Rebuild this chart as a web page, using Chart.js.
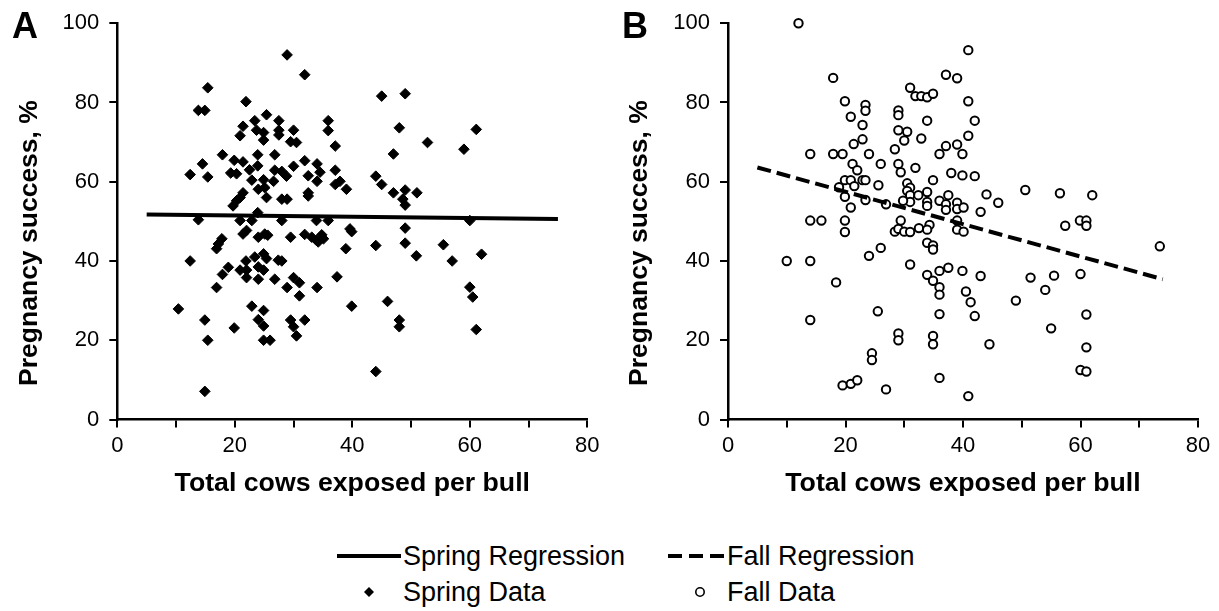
<!DOCTYPE html>
<html>
<head>
<meta charset="utf-8">
<script src="https://cdn.jsdelivr.net/npm/chart.js@4.4.1/dist/chart.umd.min.js"></script>
<style>
  html, body { margin: 0; padding: 0; background: #fff; }
  #wrap { position: relative; width: 1219px; height: 611px; overflow: hidden;
          font-family: "Liberation Sans", Arial, sans-serif; color: #000; }
  .cv { position: absolute; top: 0; }
  .panel { position: absolute; font-weight: bold; font-size: 36px; line-height: 1; }
  .ytitle { position: absolute; font-weight: bold; font-size: 26.5px; line-height: 1; white-space: nowrap;
            transform: translate(-50%, -50%) rotate(-90deg); }
  .leg { position: absolute; font-size: 27px; line-height: 1; white-space: nowrap; }
  .sym { position: absolute; }
</style>
</head>
<body>
<div id="wrap">
  <canvas id="chartA" class="cv" style="left:0px" width="610" height="500"></canvas>
  <canvas id="chartB" class="cv" style="left:610px" width="609" height="500"></canvas>

  <div class="panel" style="left:12px; top:8px;">A</div>
  <div class="panel" style="left:622px; top:8px;">B</div>

  <div class="ytitle" style="left:28px; top:243px;">Pregnancy success, %</div>
  <div class="ytitle" style="left:638px; top:243px;">Pregnancy success, %</div>

  <!-- legend -->
  <div class="sym" style="left:337px; top:554px; width:64px; height:4px; background:#000;"></div>
  <div class="leg" style="left:403px; top:543px;">Spring Regression</div>
  <svg class="sym" style="left:668px; top:552px;" width="56" height="8">
    <line x1="0" y1="4" x2="56" y2="4" stroke="#000" stroke-width="4" stroke-dasharray="14 7"></line>
  </svg>
  <div class="leg" style="left:727px; top:543px;">Fall Regression</div>
  <svg class="sym" style="left:363px; top:586px;" width="12" height="12">
    <polygon points="6,1 11,6 6,11 1,6" fill="#000"></polygon>
  </svg>
  <div class="leg" style="left:403px; top:579px;">Spring Data</div>
  <svg class="sym" style="left:694px; top:586px;" width="12" height="12">
    <circle cx="6" cy="6" r="4.2" fill="#fff" stroke="#000" stroke-width="1.6"></circle>
  </svg>
  <div class="leg" style="left:727px; top:579px;">Fall Data</div>
</div>

<script>
// Spring breeding season: cows exposed per bull vs. pregnancy success (%)
const springX = [
  15.4, 13.8, 14.9, 21.9, 25.4, 23.4, 21.4, 23.7, 24.9, 20.9, 24.9, 17.9, 19.9, 21.4, 23.9, 26.8,
  14.5, 12.4, 15.4, 19.3, 20.3, 22.5, 23.9, 26.8, 22.9, 24.9, 26.6, 24.0, 25.1, 25.4, 21.4, 20.9,
  20.3, 19.7, 23.9, 13.8, 20.9, 22.9, 21.4, 22.0, 24.0, 25.1, 25.6, 17.8, 17.2, 16.9, 12.4, 21.9,
  23.4, 24.9, 25.4, 27.4, 18.9, 17.9, 20.9, 22.0, 22.0, 24.0, 24.9, 24.0, 26.8, 16.9, 10.4, 14.9,
  15.4, 19.9, 22.9, 24.9, 24.0, 24.9, 24.9, 26.0, 14.9, 28.9, 31.9, 45.0, 49.0, 48.0, 52.8, 47.0,
  27.5, 27.5, 27.5, 30.0, 29.5, 30.5, 35.9, 35.9, 37.1, 31.9, 34.0, 34.5, 34.0, 30.0, 28.0, 28.8,
  32.5, 37.1, 37.1, 37.9, 39.0, 32.5, 32.5, 28.0, 28.9, 44.0, 45.0, 47.0, 49.0, 51.0, 48.6, 49.0,
  28.0, 33.9, 35.9, 29.5, 31.9, 33.1, 33.9, 34.8, 35.1, 34.2, 39.6, 39.9, 38.9, 44.0, 49.0, 49.0,
  50.9, 28.0, 30.0, 31.0, 28.9, 31.0, 34.0, 37.4, 39.9, 46.0, 48.0, 48.0, 29.5, 30.0, 31.9, 30.5,
  44.0, 61.1, 59.0, 60.0, 55.5, 57.0, 62.0, 60.0, 60.5, 61.1
];
const springY = [
  83.7, 78.0, 78.0, 80.2, 76.9, 75.4, 74.0, 73.0, 72.4, 71.6, 70.5, 66.8, 65.4, 65.0, 66.8, 66.8,
  64.5, 61.8, 61.2, 62.2, 62.0, 63.0, 64.0, 62.9, 60.4, 60.5, 60.1, 58.1, 58.5, 56.0, 57.2, 56.0,
  55.2, 53.9, 52.2, 50.4, 50.2, 50.2, 46.8, 47.7, 46.0, 46.8, 46.5, 45.6, 44.3, 43.1, 40.0, 40.0,
  41.0, 41.8, 40.6, 40.2, 38.4, 36.6, 37.7, 37.7, 35.8, 38.5, 37.7, 35.4, 35.4, 33.3, 27.9, 25.1,
  20.0, 23.1, 28.6, 27.5, 25.2, 23.6, 20.0, 20.0, 7.1, 92.0, 87.0, 81.6, 82.2, 73.6, 69.9, 67.0,
  75.4, 73.0, 71.8, 73.0, 70.1, 69.9, 75.4, 72.9, 69.0, 65.3, 64.5, 62.4, 60.1, 63.9, 62.6, 61.4,
  61.5, 62.9, 59.3, 60.1, 58.1, 57.2, 56.4, 55.6, 55.6, 61.4, 59.3, 57.2, 57.9, 57.2, 55.6, 54.1,
  50.2, 50.2, 50.2, 46.0, 46.7, 46.0, 45.2, 46.6, 45.6, 44.8, 48.1, 47.4, 43.1, 43.9, 48.3, 44.5,
  41.3, 40.0, 35.8, 34.5, 33.3, 31.2, 33.3, 36.0, 28.6, 29.8, 25.1, 23.4, 25.1, 23.4, 25.1, 21.1,
  12.1, 73.2, 68.2, 50.2, 44.1, 40.0, 41.7, 33.4, 30.9, 22.7
];

// Fall breeding season
const fallX = [
  12.0, 17.9, 19.9, 23.4, 23.4, 20.9, 22.9, 22.9, 21.4, 14.0, 17.9, 19.5, 24.0, 21.2, 26.0, 22.0,
  19.9, 20.9, 22.9, 23.4, 18.9, 21.5, 25.6, 19.9, 23.4, 26.9, 20.9, 14.0, 15.9, 19.9, 19.9, 10.0,
  14.0, 24.0, 26.0, 18.4, 25.5, 14.0, 24.5, 24.5, 19.5, 20.9, 22.0, 26.9, 40.9, 37.1, 39.0, 31.0,
  31.9, 32.9, 33.9, 34.9, 40.9, 29.0, 29.0, 33.9, 42.0, 29.0, 30.5, 30.0, 32.9, 40.9, 28.4, 37.1,
  39.0, 36.0, 39.9, 29.0, 29.4, 31.9, 34.9, 38.0, 39.9, 42.0, 30.5, 31.0, 30.5, 31.0, 31.0, 32.4,
  33.9, 37.5, 44.0, 50.6, 29.8, 33.9, 33.9, 36.0, 37.1, 37.1, 39.0, 39.0, 40.1, 46.0, 43.0, 29.4,
  28.4, 29.0, 30.0, 31.0, 32.5, 34.3, 33.9, 39.0, 39.0, 40.1, 33.9, 34.9, 34.9, 31.0, 33.9, 34.9,
  36.0, 37.5, 36.0, 36.0, 39.9, 43.0, 51.5, 40.5, 41.3, 42.0, 36.0, 49.0, 29.0, 29.0, 34.9, 34.9,
  44.5, 36.0, 40.9, 56.5, 62.0, 57.4, 59.9, 61.0, 61.0, 73.5, 55.5, 54.0, 60.0, 61.0, 55.0, 61.0,
  60.0, 61.0
];
const fallY = [
  100.0, 86.2, 80.3, 79.4, 77.9, 76.4, 74.3, 70.7, 69.5, 67.0, 67.0, 67.0, 67.0, 64.5, 64.5, 62.9,
  60.4, 60.4, 60.4, 60.4, 58.6, 58.9, 59.1, 56.2, 55.4, 54.3, 53.5, 50.2, 50.2, 50.2, 47.3, 40.0,
  40.0, 41.3, 43.3, 34.6, 27.3, 25.1, 16.7, 15.0, 8.6, 9.0, 9.9, 7.6, 93.2, 87.0, 86.1, 83.7,
  81.6, 81.6, 81.3, 82.2, 80.3, 78.0, 76.8, 75.4, 75.4, 73.0, 72.6, 70.4, 70.9, 71.6, 68.2, 69.0,
  69.4, 67.0, 67.0, 64.5, 62.4, 63.5, 60.4, 62.2, 61.6, 61.4, 59.6, 58.5, 57.7, 56.6, 54.9, 56.6,
  57.4, 56.6, 56.8, 57.9, 55.2, 54.9, 53.9, 55.2, 54.3, 52.9, 54.7, 53.1, 53.5, 54.7, 52.4, 50.2,
  47.4, 48.1, 47.4, 47.3, 48.3, 49.1, 47.9, 50.2, 47.9, 47.4, 44.6, 43.9, 42.9, 39.1, 36.5, 35.0,
  37.5, 38.3, 33.4, 31.5, 37.5, 36.2, 35.8, 32.3, 29.6, 26.1, 26.6, 30.0, 21.7, 20.0, 21.1, 19.0,
  19.0, 10.5, 5.9, 57.1, 56.6, 48.9, 50.2, 50.2, 48.9, 43.7, 36.3, 32.7, 36.7, 26.5, 23.0, 18.2,
  12.5, 12.1
];

// Fitted regression lines (end points of each fit)
const springFitX = [5, 75];
const springFitY = [51.7, 50.6];
const fallFitX = [5, 74];
const fallFitY = [63.6, 35.4];

// Axis ticks
const xLabelled = [0, 20, 40, 60, 80];
const yLabelled = [0, 20, 40, 60, 80, 100];

const FONT = '"Liberation Sans", Arial, sans-serif';

function toPoints(xs, ys) {
  return xs.map((x, i) => ({ x: x, y: ys[i] }));
}

function buildScales(yWidth, xHeight) {
  const grid = { display: true, drawOnChartArea: false, drawTicks: true, tickLength: 8, color: '#000', lineWidth: 2 };
  const border = { display: true, color: '#000', width: 2.5 };
  return {
    x: {
      type: 'linear', min: 0, max: 80,
      grid: grid, border: border,
      ticks: {
        stepSize: 10, autoSkip: false, maxRotation: 0, color: '#000', padding: 5,
        font: { family: FONT, size: 22 },
        callback: v => (xLabelled.includes(v) ? String(v) : '')
      },
      title: {
        display: true, text: 'Total cows exposed per bull', color: '#000',
        font: { family: FONT, size: 26.7, weight: 'bold' },
        padding: { top: 0, bottom: 0 }
      },
      afterFit: s => { s.height = xHeight; }
    },
    y: {
      type: 'linear', min: 0, max: 100,
      grid: grid, border: border,
      ticks: {
        stepSize: 20, color: '#000', padding: 10,
        font: { family: FONT, size: 22 },
        callback: v => (yLabelled.includes(v) ? String(v) : '')
      },
      afterFit: s => { s.width = yWidth; }
    }
  };
}

function makeChart(id, pointData, pointStyle, fitData, dash, pad, yWidth) {
  const isDiamond = pointStyle === 'rectRot';
  return new Chart(document.getElementById(id), {
    type: 'scatter',
    data: {
      datasets: [
        {
          type: 'line', data: fitData, order: 0, showLine: true, clip: false,
          borderColor: '#000', borderWidth: 4, borderDash: dash, pointRadius: 0, fill: false, tension: 0
        },
        {
          data: pointData, order: 1, clip: false,
          pointStyle: pointStyle,
          pointRadius: isDiamond ? 5.3 : 4.2,
          pointHoverRadius: isDiamond ? 5.3 : 4.2,
          backgroundColor: isDiamond ? '#000' : '#fff',
          borderColor: '#000',
          borderWidth: isDiamond ? 1 : 2
        }
      ]
    },
    options: {
      responsive: false, animation: false, devicePixelRatio: 1,
      layout: { padding: pad },
      plugins: { legend: { display: false }, tooltip: { enabled: false } },
      scales: buildScales(yWidth, 80.5)
    }
  });
}

makeChart('chartA', toPoints(springX, springY), 'rectRot',
  toPoints(springFitX, springFitY), [],
  { left: 0, top: 18.5, right: 22.7, bottom: 0 }, 117.3);

makeChart('chartB', toPoints(fallX, fallY), 'circle',
  toPoints(fallFitX, fallFitY), [14, 6],
  { left: 0, top: 18.5, right: 21, bottom: 0 }, 118);
</script>
</body>
</html>
